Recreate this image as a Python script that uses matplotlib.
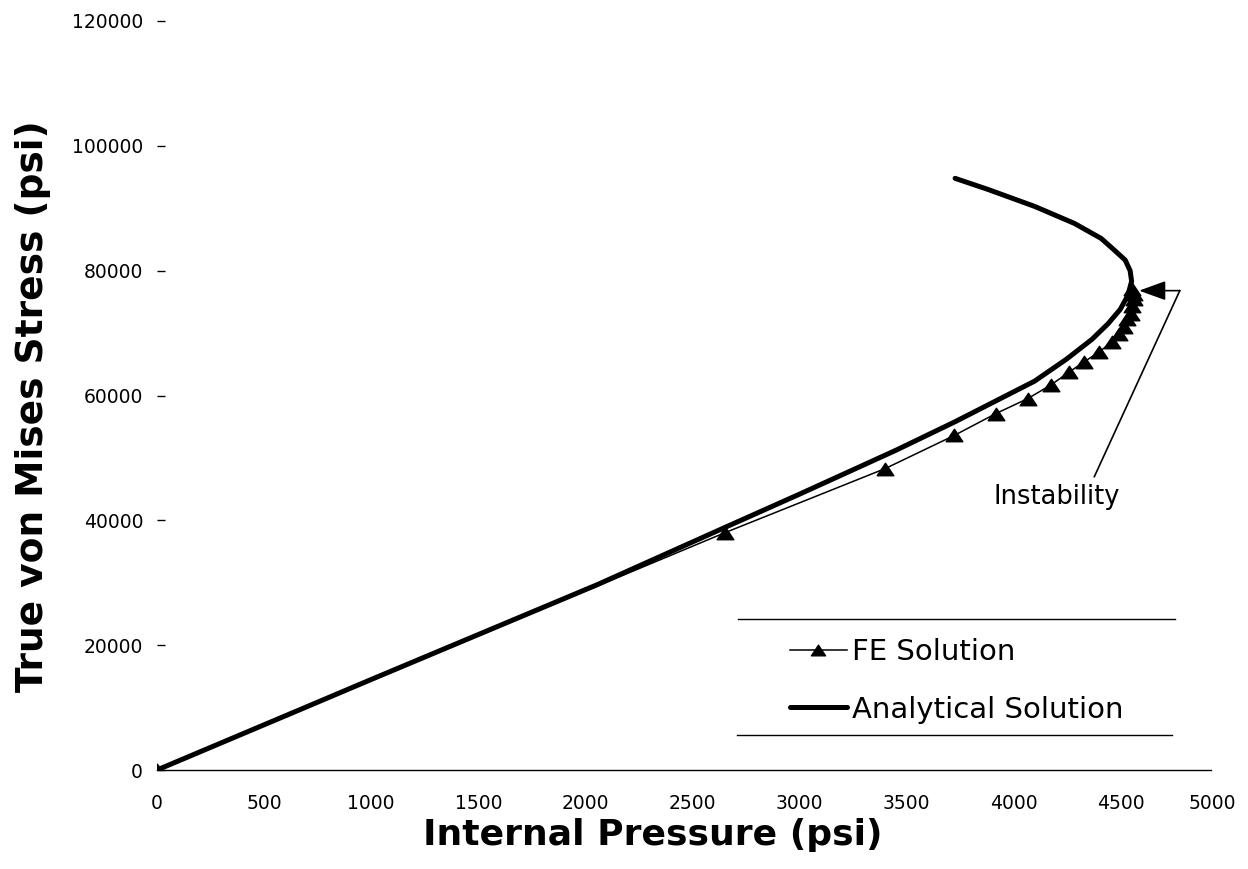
import matplotlib
matplotlib.use("Agg")
import matplotlib.pyplot as plt
from matplotlib.lines import Line2D
from matplotlib.path import Path
from matplotlib.transforms import ScaledTranslation

plt.rcParams['font.family'] = ['DejaVu Sans']

# ---- data ----
fe_pressure = [0, 2650, 3400, 3722, 3916, 4065, 4176, 4260, 4329, 4399, 4459,
               4492, 4515, 4529, 4548, 4552, 4561, 4561, 4552]
fe_stress = [0, 38000, 48300, 53600, 57100, 59500, 61750, 63800, 65400, 67000,
             68600, 69900, 71000, 72200, 73100, 74300, 75400, 76300, 77100]

an_pressure = [0, 664, 1000, 1500, 2056, 2654, 3000, 3448, 3726, 4097, 4245,
               4365, 4440, 4497, 4532, 4550, 4543, 4520, 4469, 4408, 4283, 4097, 3879, 3726]
an_stress = [0, 9620, 14500, 21700, 29700, 38900, 44200, 51200, 55800, 62300,
             65800, 69000, 71500, 73800, 76000, 78300, 80000, 81700, 83300,
             85160, 87570, 90300, 93020, 94790]

x_ticks = [0, 500, 1000, 1500, 2000, 2500, 3000, 3500, 4000, 4500, 5000]
y_ticks = [0, 20000, 40000, 60000, 80000, 100000, 120000]

W, H = 1248, 869
fig = plt.figure(figsize=(W / 100, H / 100), dpi=100)
ax = fig.add_axes([157 / W, 1 - 770 / H, (1228 - 157) / W, (770 - 21) / H])

tri = Path([(-1, -0.75), (1, -0.75), (0, 0.75), (-1, -0.75)],
           [Path.MOVETO, Path.LINETO, Path.LINETO, Path.CLOSEPOLY])

ax.plot(fe_pressure, fe_stress, color='black', lw=1.1, marker=tri,
        markersize=12, markerfacecolor='black', markeredgecolor='black',
        label='FE Solution', zorder=3)
ax.plot(an_pressure, an_stress, color='black', lw=3.6, solid_joinstyle='round',
        solid_capstyle='round', label='Analytical Solution', zorder=4)

ax.set_xlim(0, 5000)
ax.set_ylim(0, 120000)
ax.set_xticks(x_ticks)
ax.set_yticks(y_ticks)
ax.set_xticklabels([str(v) for v in x_ticks])
ax.set_yticklabels([str(v) for v in y_ticks])

for s in ['top', 'right', 'left']:
    ax.spines[s].set_visible(False)
ax.spines['bottom'].set_linewidth(1.0)
ax.spines['bottom'].set_bounds(0, 4920)
ax.tick_params(axis='x', length=0, pad=17, labelsize=13.5)
ax.tick_params(axis='y', direction='in', length=6, width=1.0, pad=10, labelsize=13.5)

# last x tick label sits slightly left in the reference
last = ax.get_xticklabels()[-1]
last.set_transform(last.get_transform() + ScaledTranslation(-0.16, 0, fig.dpi_scale_trans))

# axis titles
fig.text(653 / W, 1 - 835 / H, 'Internal Pressure (psi)', ha='center', va='center',
         fontsize=26, fontweight='bold')
fig.text(33 / W, 1 - 406 / H, 'True von Mises Stress (psi)', ha='center', va='center',
         rotation=90, fontsize=27, fontweight='bold')

# Instability annotation
tip = (4585, 76800)
corner = (4775, 76800)
low = (4376, 47000)
ax.plot([low[0], corner[0]], [low[1], corner[1]], color='black', lw=1.2)
ax.annotate('', xy=tip, xytext=corner,
            arrowprops=dict(arrowstyle='-|>,head_length=1.1,head_width=0.4',
                            mutation_scale=15, color='black', lw=1.2,
                            shrinkA=0, shrinkB=0))
ax.text(4202, 43800, 'Instability', ha='center', va='center', fontsize=18.5)

# legend
leg = ax.legend(loc='center left', bbox_to_anchor=(790 / W, 1 - 681 / H),
                bbox_transform=fig.transFigure, frameon=False, fontsize=21,
                handlelength=1.95, handletextpad=0.17, labelspacing=1.0,
                borderpad=0, borderaxespad=0, markerscale=0.85)
fig.add_artist(Line2D([738 / W, 1175 / W], [1 - 619 / H, 1 - 619 / H],
                      transform=fig.transFigure, color='black', lw=1.0))
fig.add_artist(Line2D([737 / W, 1172 / W], [1 - 735 / H, 1 - 735 / H],
                      transform=fig.transFigure, color='black', lw=1.0))

fig.savefig('out.png', dpi=100)
